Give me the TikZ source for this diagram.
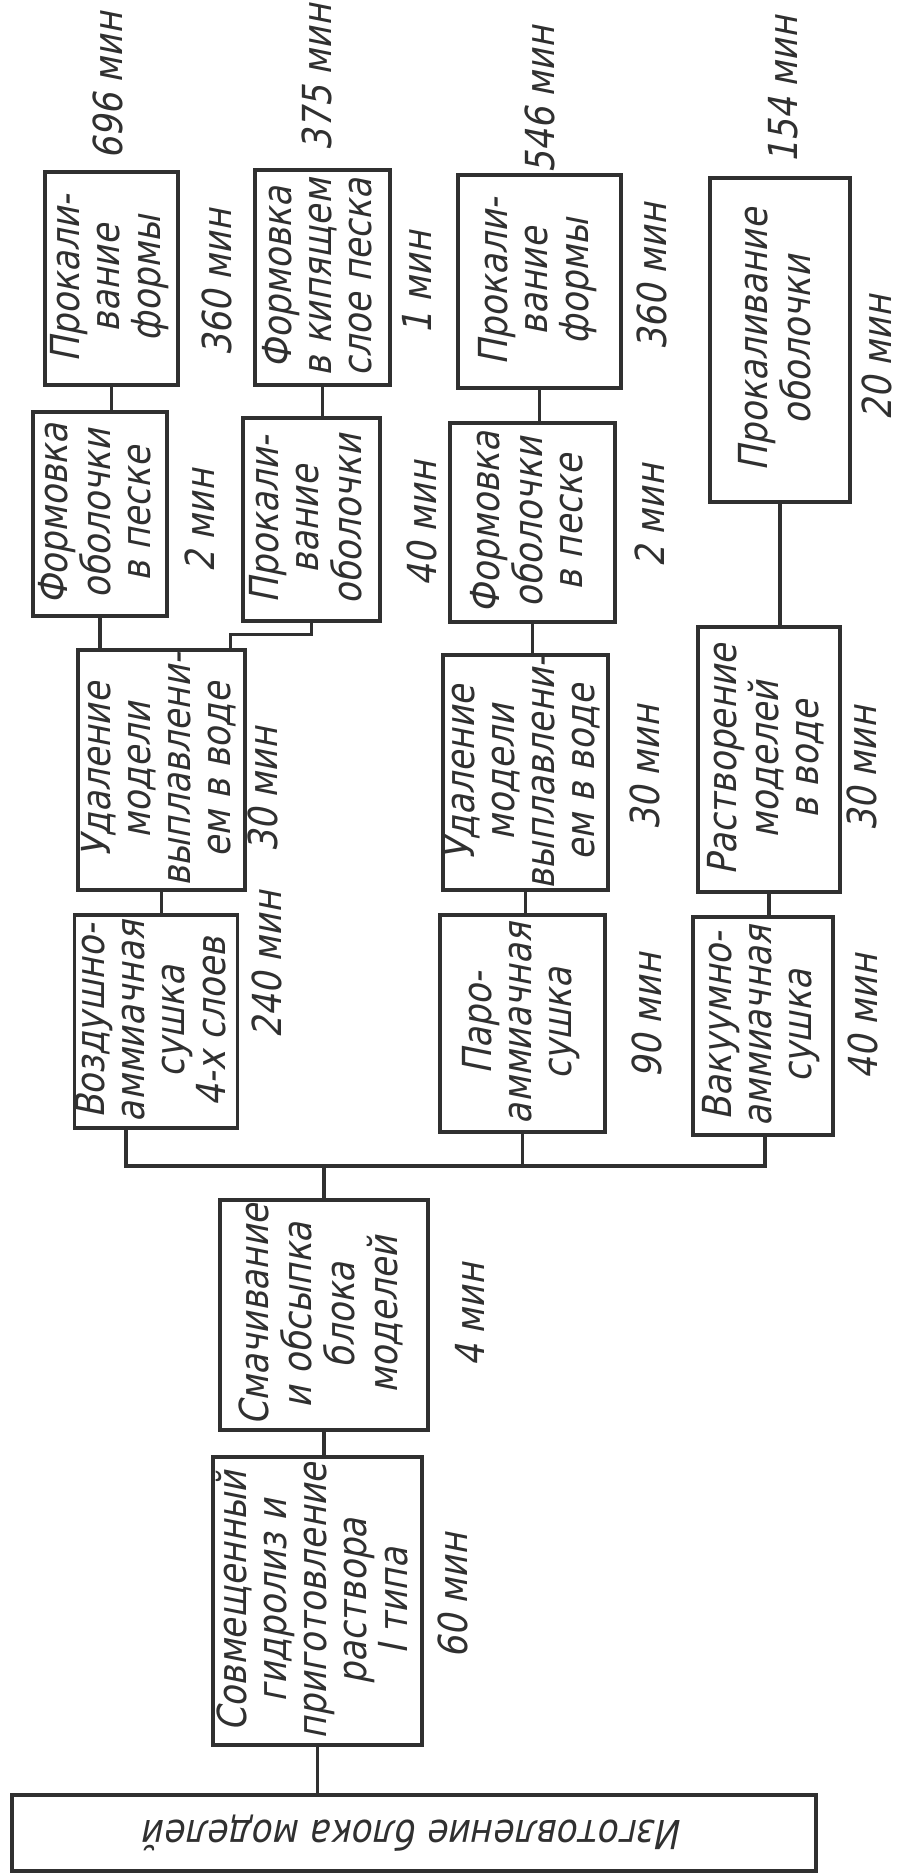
\documentclass[tikz,border=0pt]{standalone}
\usepackage{fontspec}
\newfontfamily\dr[FakeStretch=0.86,FakeSlant=0.2]{DejaVu Sans}
\definecolor{ink}{HTML}{303030}
\newcommand{\mybox}[6]{\node[box, minimum width={(#3-#2)*1pt}, minimum height={(#5-#4)*1pt}] (#1) at ({(#2+#3)/2},{(#4+#5)/2}) {\rotatebox{90}{\begin{tabular}{@{}c@{}}#6\end{tabular}}};}
\newcommand{\tlab}[4]{\node[tm] (#1) at (#2,#3) {\rotatebox{90}{#4}};}
\tikzset{
  box/.style={draw=ink, line width=3.2pt, inner sep=0pt, font=\dr\fontsize{40}{40}\selectfont, text=ink},
  tm/.style={inner sep=0pt, font=\dr\fontsize{40}{40}\selectfont, text=ink},
  wire/.style={draw=ink, line width=3.2pt},
}
\begin{document}
\begin{tikzpicture}[x=1pt,y=-1pt]
\useasboundingbox (0,0) rectangle (899,1874);
\fill[white] (0,0) rectangle (899,1874);
% column 1
\mybox{b1}{45}{178}{172}{385}{Прокали-\\вание\\формы}
\mybox{b2}{33}{167}{412}{616}{Формовка\\оболочки\\в песке}
\mybox{b3}{78}{245}{650}{890}{Удаление\\модели\\выплавлени-\\ем в воде}
\mybox{b4}{75}{237}{915}{1128}{Воздушно-\\аммиачная\\сушка\\4-х слоев}
% column 2
\mybox{c1}{255}{390}{170}{385}{Формовка\\в кипящем\\слое песка}
\mybox{c2}{243}{380}{418}{621}{Прокали-\\вание\\оболочки}
% column 3
\mybox{d1}{458}{621}{175}{388}{Прокали-\\вание\\формы}
\mybox{d2}{450}{615}{423}{622}{Формовка\\оболочки\\в песке}
\mybox{d3}{443}{608}{655}{890}{Удаление\\модели\\выплавлени-\\ем в воде}
\mybox{d4}{440}{605}{915}{1132}{Паро-\\аммиачная\\сушка}
% column 4
\mybox{e1}{710}{850}{178}{502}{Прокаливание\\оболочки}
\mybox{e2}{698}{840}{627}{892}{Растворение\\моделей\\в воде}
\mybox{e3}{693}{833}{917}{1135}{Вакуумно-\\аммиачная\\сушка}
% lower chain
\mybox{s}{220}{428}{1200}{1430}{Смачивание\\и обсыпка\\блока\\моделей}
\mybox{a}{213}{422}{1457}{1745}{Совмещенный\\гидролиз и\\приготовление\\раствора\\I типа}
\node[box, rotate=180, minimum width=804pt, minimum height=76pt] (z) at (414,1833) {Изготовление блока моделей};
% times
\tlab{t1}{108}{86}{696 мин}
\tlab{t2}{317}{78}{375 мин}
\tlab{t3}{540}{100}{546 мин}
\tlab{t4}{783}{90}{154 мин}
\tlab{t5}{217}{283}{360 мин}
\tlab{t6}{417}{283}{1 мин}
\tlab{t7}{652}{277}{360 мин}
\tlab{t8}{877}{358}{20 мин}
\tlab{t9}{200}{521}{2 мин}
\tlab{t10}{422}{524}{40 мин}
\tlab{t11}{650}{516}{2 мин}
\tlab{t12}{263}{790}{30 мин}
\tlab{t13}{645}{768}{30 мин}
\tlab{t14}{862}{769}{30 мин}
\tlab{t15}{267}{965}{240 мин}
\tlab{t16}{647}{1016}{90 мин}
\tlab{t17}{863}{1017}{40 мин}
\tlab{t18}{470}{1315}{4 мин}
\tlab{t19}{453}{1596}{60 мин}
% connectors
\coordinate (busL) at (126,1166);
\coordinate (busR) at (765,1166);
\draw[wire] (b1.south) -- (b1.south |- b2.north);
\draw[wire] (b2.south) -- (b2.south |- b3.north);
\draw[wire] (c2.south) |- ([xshift=-16pt,yshift=14pt]b3.north east) -- ([xshift=-16pt]b3.north east);
\draw[wire] (b3.south) -- (b3.south |- b4.north);
\draw[wire] (c1.south) -- (c1.south |- c2.north);
\draw[wire] (d1.south) -- (d1.south |- d2.north);
\draw[wire] (d2.south) -- (d2.south |- d3.north);
\draw[wire] (d3.south) -- (d3.south |- d4.north);
\draw[wire] (e1.south) -- (e1.south |- e2.north);
\draw[wire] (e2.south) -- (e2.south |- e3.north);
\draw[wire] (b4.south -| busL) |- (busR) -- (e3.south -| busR);
\draw[wire] (d4.south) -- (d4.south |- busL);
\draw[wire] (s.north) -- (s.north |- busL);
\draw[wire] (s.south) -- (s.south |- a.north);
\draw[wire] (a.south) -- (a.south |- z.south);
\end{tikzpicture}
\end{document}
